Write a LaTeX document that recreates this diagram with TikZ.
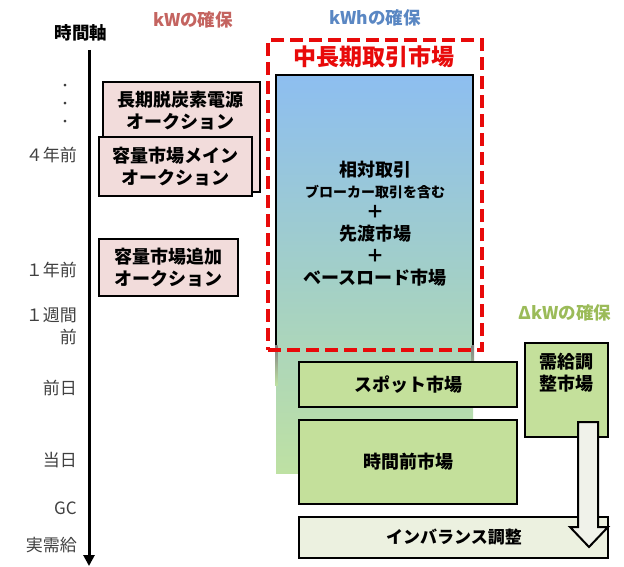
\documentclass[tikz,border=0pt]{standalone}
\usepackage{fontspec}
\setmainfont{Noto Sans CJK JP}
\usetikzlibrary{arrows.meta}
\definecolor{pinkfill}{RGB}{242,220,219}
\definecolor{greenfill}{RGB}{196,224,155}
\definecolor{imbfill}{RGB}{236,241,224}
\definecolor{arrowfill}{RGB}{240,242,234}
\definecolor{kwred}{RGB}{196,100,96}
\definecolor{kwhblue}{RGB}{90,135,195}
\definecolor{dkwgreen}{RGB}{155,187,89}
\definecolor{mredd}{RGB}{232,10,10}
\definecolor{gradtop}{RGB}{141,190,240}
\definecolor{gradmid}{RGB}{162,207,200}
\definecolor{gradbot}{RGB}{190,225,163}
\definecolor{axisgray}{RGB}{64,64,64}
\begin{document}
\begin{tikzpicture}[x=1pt,y=-1pt,
  boxstyle/.style={draw=black,line width=2.2pt,inner sep=0pt,align=center,
    font=\bfseries\fontsize{18}{22}\selectfont},
  pinkbox/.style={boxstyle,fill=pinkfill},
  greenbox/.style={boxstyle,fill=greenfill},
  axlabel/.style={anchor=east,inner sep=0pt,text=axisgray,align=right,
    font=\fontsize{17}{22}\selectfont},
  headtext/.style={inner sep=0pt,font=\bfseries\fontsize{17.5}{20}\selectfont},
  boxtext/.style={inner sep=0pt,align=center,font=\bfseries\fontsize{18}{22}\selectfont}]
\useasboundingbox (0,0) rectangle (624,567);

% headings
\node[headtext] (hjiku) at (81,33) {時間軸};
\node[headtext,text=kwred] (hkw) at (193,20) {kWの確保};
\node[headtext,text=kwhblue] (hkwh) at (375,18) {kWhの確保};
\node[headtext,text=dkwgreen] (hdkw) at (565,313) {ΔkWの確保};

% time axis
\coordinate (axtop) at (89,50);
\coordinate (axbot) at (89,566);
\draw[line width=3pt,-{Triangle[length=11pt,width=11pt]}] (axtop) -- (axbot);
\node[inner sep=0pt,text=axisgray,font=\fontsize{13}{13}\selectfont] (d1) at (65,87) {・};
\node[inner sep=0pt,text=axisgray,font=\fontsize{13}{13}\selectfont] (d2) at (65,105) {・};
\node[inner sep=0pt,text=axisgray,font=\fontsize{13}{13}\selectfont] (d3) at (65,123) {・};
\node[axlabel] (l4y) at (77,155) {４年前};
\node[axlabel] (l1y) at (77,270) {１年前};
\node[axlabel] (l1w) at (77,326) {１週間\\前};
\node[axlabel] (lpd) at (77,388) {前日};
\node[axlabel] (ltd) at (77,460) {当日};
\node[axlabel] (lgc) at (77,508) {GC};
\node[axlabel] (lrd) at (77,545) {実需給};

% kW boxes
\node[pinkbox,minimum width=157pt,minimum height=110pt] (b1) at (181.5,137) {};
\node[boxtext] (b1t) at (180,111) {長期脱炭素電源\\オークション};
\node[pinkbox,minimum width=153pt,minimum height=59pt] (b2) at (175.5,166.5) {容量市場メイン\\オークション};
\node[pinkbox,minimum width=139pt,minimum height=57pt] (b3) at (168.5,267.5) {容量市場追加\\オークション};

% kWh gradient block
\shade[top color=gradtop,bottom color=gradbot,middle color=gradmid] (276,75) rectangle (473,473);
\shade[top color=gray,bottom color=gradbot] (275,345) rectangle (277.5,385);
\shade[top color=gray,bottom color=gradbot] (471.5,345) rectangle (474,385);
\draw[line width=2.2pt] (276,345) -- (276,75) -- (473,75) -- (473,345);
\node[boxtext] (g1) at (375,170) {相対取引};
\node[inner sep=0pt,font=\bfseries\fontsize{14}{16}\selectfont] (g2) at (375,192) {ブローカー取引を含む};
\node[boxtext] (g3) at (375,212) {＋};
\node[boxtext] (g4) at (375,234) {先渡市場};
\node[boxtext] (g5) at (375,256) {＋};
\node[boxtext] (g6) at (375,278) {ベースロード市場};

% red dashed mid/long-term market frame
\node[draw=mredd,line width=3.5pt,dash pattern=on 13pt off 6pt,
  minimum width=214pt,minimum height=310pt,inner sep=0pt] (red) at (375,195) {};
\node[inner sep=0pt,text=mredd,font=\bfseries\fontsize{23}{26}\selectfont] (redt) at (374,57) {中長期取引市場};

% spot / intraday / balancing
\node[greenbox,minimum width=218pt,minimum height=45pt] (spot) at (408,384.5) {スポット市場};
\node[greenbox,minimum width=218pt,minimum height=84pt] (intra) at (408,462) {時間前市場};
\node[greenbox,minimum width=83pt,minimum height=94pt] (bal) at (566.5,390) {};
\node[boxtext] (balt) at (566,373) {需給調\\整市場};
\node[boxstyle,fill=imbfill,minimum width=309pt,minimum height=41pt] (imb) at (453.5,537.5) {};
\node[boxtext,font=\bfseries\fontsize{17}{20}\selectfont] (imbt) at (454,537) {インバランス調整};

% block arrow
\draw[line width=2pt,fill=arrowfill,line join=miter]
  (578,422) -- (598,422) -- (598,527) -- (608,527) -- (589,547)
  -- (570,527) -- (578,527) -- cycle;
\end{tikzpicture}
\end{document}
